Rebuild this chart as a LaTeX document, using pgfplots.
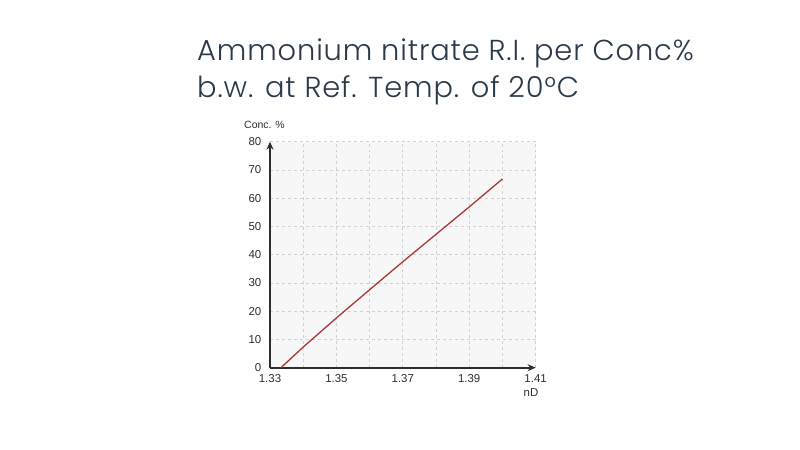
\documentclass[border=0pt]{standalone}
\usepackage{pgfplots}
\pgfplotsset{compat=1.18}
\usepackage{fontspec}
\setmainfont{Liberation Sans}
\newfontfamily\titlefont{Poppins Light}[LetterSpace=3]
\usetikzlibrary{arrows.meta}
\definecolor{titlecol}{HTML}{2B3A4B}
\definecolor{linecol}{HTML}{A83838}
\definecolor{axcol}{HTML}{2E2E2E}
\begin{document}
\begin{tikzpicture}[x=1bp,y=1bp]
\path[fill=white] (0,0) rectangle (800,450);
\node[anchor=base west, inner sep=0, font=\titlefont\fontsize{29}{34}\selectfont, text=titlecol] at (197,389) {Ammonium nitrate R.I. per Conc\%};
\node[anchor=base west, inner sep=0, font=\titlefont\fontsize{29}{34}\selectfont, text=titlecol] at (197,352) {b.w. at Ref. Temp. of 20°C};
\begin{axis}[
  at={(270bp,82.3bp)}, anchor=south west,
  scale only axis, width=265.6bp, height=226bp,
  xmin=1.33, xmax=1.41, ymin=0, ymax=80,
  axis lines=left,
  axis line style={draw=axcol, line width=1.7bp},
  x axis line style={-{Stealth[length=8bp,width=7bp]}},
  y axis line style={-{Stealth[length=8bp,width=7bp]}},
  xtick={1.33,1.35,1.37,1.39,1.41},
  minor xtick={1.34,1.36,1.38,1.40},
  ytick={0,10,...,80},
  grid=both,
  major grid style={dashed, draw=black!18, line width=0.8bp},
  minor grid style={dashed, draw=black!18, line width=0.8bp},
  tick style={draw=none},
  xticklabel style={/pgf/number format/fixed, /pgf/number format/precision=2, /pgf/number format/fixed zerofill, yshift=-1bp},
  yticklabel style={xshift=-3bp},
  tick label style={font=\fontsize{11.5}{12}\selectfont, text=axcol},
  /pgf/number format/assume math mode=true,
  axis background/.style={fill=black!3},
  clip=false,
]
\addplot[linecol, line width=1.3bp] coordinates {
(1.3333,0) (1.34,7.3) (1.35,17.6) (1.36,27.6) (1.37,37.5) (1.38,47.2) (1.39,56.9) (1.40,66.8)
};
\end{axis}
\node[anchor=west, inner sep=0, font=\fontsize{10.5}{12}\selectfont, text=axcol] at (244,325) {Conc. \%};
\node[anchor=center, inner sep=0, font=\fontsize{11.5}{12}\selectfont, text=axcol] at (531,57) {nD};
\end{tikzpicture}
\end{document}
